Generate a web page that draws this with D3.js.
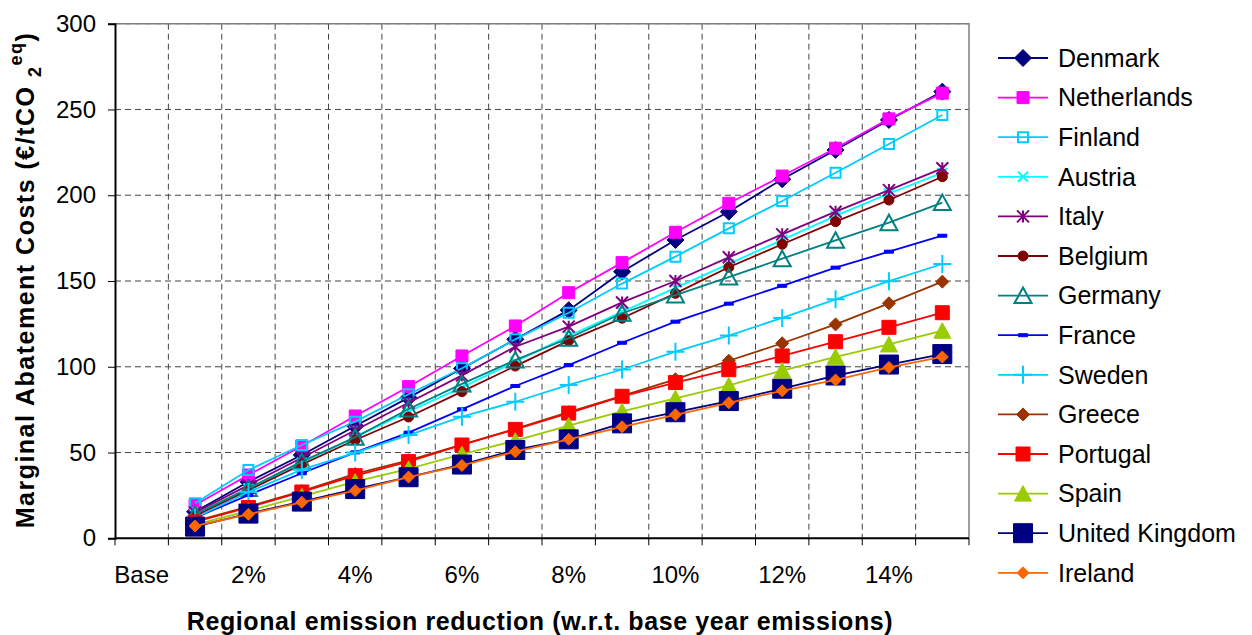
<!DOCTYPE html>
<html>
<head>
<meta charset="utf-8">
<script src="https://cdn.jsdelivr.net/npm/d3@7"></script>
<style>
  body { margin: 0; background: #fff; }
  text { font-family: "Liberation Sans", Arial, sans-serif; fill: #000; }
</style>
</head>
<body>
<svg id="chart" width="1252" height="635"></svg>
<script>
// categories on the x axis (Base + 1%..15%)
var categories = ["Base","1%","2%","3%","4%","5%","6%","7%","8%","9%","10%","11%","12%","13%","14%","15%"];
var tickLabels = ["Base","2%","4%","6%","8%","10%","12%","14%"];
var yTicks = [0, 50, 100, 150, 200, 250, 300];

// marginal abatement costs, one value per reduction step 1%..15%
var denmark     = [15.5, 33, 48.6, 65.5, 82, 99, 116, 133, 155.4, 173.9, 190.4, 209.3, 226.4, 243.9, 260.4];
var netherlands = [19.4, 36.9, 53.8, 71.3, 88.4, 106.3, 123.8, 143.2, 160.7, 178.4, 195.3, 211.2, 227.4, 244.5, 259.5];
var finland     = [20.4, 39.8, 54.4, 68, 84, 99.1, 116, 131.5, 148.5, 164.2, 180.7, 196.6, 213.1, 229.9, 246.8];
var austria     = [14, 29, 44, 59, 74, 88, 103, 118, 132, 146, 160, 174, 188, 201, 213];
var italy       = [15, 31, 47, 63, 79, 95, 111.7, 123.4, 137.5, 150, 163.8, 177.2, 190.4, 203, 215.7];
var belgium     = [13, 28, 43, 57.3, 70.7, 85.5, 100.4, 115.2, 128.3, 142.8, 158, 171.4, 184.6, 197.2, 210.8];
var germany     = [14, 29.1, 44.7, 58.9, 75.4, 90, 103.9, 116.6, 131.2, 141.8, 152.3, 163, 173.7, 184, 195.7];
var france      = [12, 25.2, 37.9, 50.1, 61.6, 75.2, 88.8, 101, 114, 126.3, 136.8, 147.2, 157.8, 167.1, 176.4];
var sweden      = [12, 27, 40, 50, 60.2, 70.9, 79.6, 89.4, 98.4, 108.8, 118.2, 128.5, 139.3, 149.9, 159.9];
var greece      = [10, 18.5, 27.5, 37.5, 45.5, 54.6, 63.8, 73.5, 83, 92.7, 103.5, 113.7, 124.7, 137, 149.6];
var portugal    = [9.5, 18, 27, 36.5, 44.7, 54.4, 63.5, 73, 82.8, 90.8, 98.3, 106.3, 114.6, 123, 131.5];
var spain       = [8, 16, 24.5, 33, 40.5, 49, 56.9, 65.7, 74, 81.6, 89.1, 97.8, 105.8, 113, 121];
var uk          = [6.8, 14.4, 21.4, 28.7, 35.6, 43, 51.5, 57.7, 67, 73.5, 80, 87.2, 94.9, 101.3, 107.4];
var ireland     = [7.2, 14, 21, 27.8, 35.7, 42.5, 50.5, 57.7, 65, 72, 79, 86, 92.3, 99.6, 105.7];

var names  = ["Denmark","Netherlands","Finland","Austria","Italy","Belgium","Germany","France",
              "Sweden","Greece","Portugal","Spain","United Kingdom","Ireland"];
var values = [denmark, netherlands, finland, austria, italy, belgium, germany, france,
              sweden, greece, portugal, spain, uk, ireland];

// look of each series (Excel style markers)
var styles = {
  "Denmark":        {color: "#000080", marker: "diamond",  size: 17, fill: true},
  "Netherlands":    {color: "#FF00FF", marker: "square",   size: 12, fill: true},
  "Finland":        {color: "#00CCFF", marker: "square",   size: 10, fill: false},
  "Austria":        {color: "#00FFFF", marker: "cross",    size: 10, fill: false},
  "Italy":          {color: "#800080", marker: "star",     size: 12, fill: false},
  "Belgium":        {color: "#800000", marker: "circle",   size: 10, fill: true},
  "Germany":        {color: "#008080", marker: "triangle", size: 17, fill: false},
  "France":         {color: "#0000FF", marker: "dash",     size: 9,  fill: true},
  "Sweden":         {color: "#00CCFF", marker: "plus",     size: 18, fill: false},
  "Greece":         {color: "#993300", marker: "diamond",  size: 13, fill: true},
  "Portugal":       {color: "#FF0000", marker: "square",   size: 14, fill: true},
  "Spain":          {color: "#99CC00", marker: "triangle", size: 17, fill: true},
  "United Kingdom": {color: "#000080", marker: "square",   size: 19, fill: true},
  "Ireland":        {color: "#FF6600", marker: "diamond",  size: 12, fill: true}
};

var plotLeft = 115, plotRight = 969, plotTop = 23.7, plotBottom = 538.3;

var svg = d3.select("#chart");

var x = d3.scaleBand().domain(categories).range([plotLeft, plotRight]).padding(0);
var y = d3.scaleLinear().domain([0, 300]).range([plotBottom, plotTop]);

// marker shapes centred on 0,0
function markerPath(type, s) {
  var h = s / 2;
  switch (type) {
    case "diamond":  return "M0," + (-h) + "L" + h + ",0L0," + h + "L" + (-h) + ",0Z";
    case "square":   return "M" + (-h) + "," + (-h) + "h" + s + "v" + s + "h" + (-s) + "Z";
    case "triangle": return "M0," + (-h + 0.5) + "L" + h + "," + (h - 1) + "L" + (-h) + "," + (h - 1) + "Z";
    case "cross":    return "M" + (-h) + "," + (-h) + "L" + h + "," + h + "M" + h + "," + (-h) + "L" + (-h) + "," + h;
    case "plus":     return "M" + (-h) + ",0H" + h + "M0," + (-h) + "V" + h;
    case "star":     return "M" + (-h) + "," + (-h) + "L" + h + "," + h + "M" + h + "," + (-h) + "L" + (-h) + "," + h +
                            "M0," + (-h) + "V" + h;
    case "dash":     return "M" + (-h) + ",-1.5h" + s + "v3h" + (-s) + "Z";
    case "circle":   return d3.symbol(d3.symbolCircle, Math.PI * h * h)();
  }
}

function drawMarker(g, st) {
  var p = g.append("path").attr("d", markerPath(st.marker, st.size));
  if (st.fill) {
    p.attr("fill", st.color).attr("stroke", st.color).attr("stroke-width", 1);
  } else {
    p.attr("fill", "none").attr("stroke", st.color).attr("stroke-width", 2);
  }
}

// grid
var grid = svg.append("g");
grid.selectAll("line.h").data(yTicks.filter(function(d){ return d > 0; }))
  .enter().append("line")
  .attr("x1", plotLeft).attr("x2", plotRight)
  .attr("y1", function(d){ return y(d); }).attr("y2", function(d){ return y(d); })
  .attr("stroke", "#444").attr("stroke-dasharray", "6,4").attr("stroke-width", 1);
grid.selectAll("line.v").data(categories.slice(1))
  .enter().append("line")
  .attr("x1", function(d){ return x(d); }).attr("x2", function(d){ return x(d); })
  .attr("y1", plotTop).attr("y2", plotBottom)
  .attr("stroke", "#444").attr("stroke-dasharray", "6,4").attr("stroke-width", 1);

// plot frame (top/right grey)
svg.append("path")
  .attr("d", "M" + plotLeft + "," + plotTop + "H" + plotRight + "V" + plotBottom)
  .attr("fill", "none").attr("stroke", "#808080").attr("stroke-width", 1.5);

// y axis
var yAxis = svg.append("g").attr("transform", "translate(" + plotLeft + ",0)")
  .call(d3.axisLeft(y).tickValues(yTicks).tickSize(7).tickPadding(12));
yAxis.select(".domain").attr("stroke", "#000").attr("stroke-width", 2);
yAxis.selectAll("text").style("font-size", "24px").attr("fill", "#000")
  .style("font-family", "'Liberation Sans', Arial, sans-serif");

// x axis: ticks at band boundaries, labels every second category
var xBoundaries = categories.map(function(d){ return x(d); }).concat([plotRight]);
var xAxisG = svg.append("g");
xAxisG.append("line").attr("x1", plotLeft).attr("x2", plotRight)
  .attr("y1", plotBottom).attr("y2", plotBottom)
  .attr("stroke", "#000").attr("stroke-width", 2);
xAxisG.selectAll("line.t").data(xBoundaries).enter().append("line")
  .attr("x1", function(d){ return d; }).attr("x2", function(d){ return d; })
  .attr("y1", plotBottom).attr("y2", plotBottom + 7).attr("stroke", "#000").attr("stroke-width", 1);
xAxisG.selectAll("text").data(tickLabels).enter().append("text")
  .attr("x", function(d){ return x(d) + x.bandwidth() / 2; })
  .attr("y", 575).attr("dy", "0.35em").attr("text-anchor", "middle")
  .style("font-size", "24px").text(function(d){ return d; });

// series
var line = d3.line()
  .x(function(d){ return x(d.cat) + x.bandwidth() / 2; })
  .y(function(d){ return y(d.v); });

names.forEach(function(name, i) {
  var st = styles[name];
  var pts = values[i].map(function(v, j){ return {cat: categories[j + 1], v: v}; });
  var g = svg.append("g");
  g.append("path").datum(pts).attr("d", line)
    .attr("fill", "none").attr("stroke", st.color).attr("stroke-width", 1.8);
  pts.forEach(function(p) {
    var m = g.append("g").attr("transform", "translate(" + (x(p.cat) + x.bandwidth() / 2) + "," + y(p.v) + ")");
    drawMarker(m, st);
  });
});

// legend
var legend = svg.append("g");
names.forEach(function(name, i) {
  var st = styles[name];
  var ly = 58 + i * 39.6;
  legend.append("line").attr("x1", 998).attr("x2", 1048).attr("y1", ly).attr("y2", ly)
    .attr("stroke", st.color).attr("stroke-width", 1.8);
  var m = legend.append("g").attr("transform", "translate(1023," + ly + ")");
  drawMarker(m, st);
  legend.append("text").attr("x", 1058).attr("y", ly).attr("dy", "0.35em")
    .style("font-size", "25px").text(name);
});

// axis titles
svg.append("text")
  .attr("x", 540).attr("y", 621).attr("dy", "0.35em").attr("text-anchor", "middle")
  .style("font-size", "25px").style("font-weight", "bold").style("letter-spacing", "0.6px")
  .text("Regional emission reduction (w.r.t. base year emissions)");

var yt = svg.append("text")
  .attr("transform", "translate(34,280) rotate(-90)")
  .attr("text-anchor", "middle")
  .style("font-size", "25px").style("font-weight", "bold").style("letter-spacing", "1.5px");
yt.append("tspan").text("Marginal Abatement Costs (€/tCO ");
yt.append("tspan").attr("dy", 7).style("font-size", "18px").text("2");
yt.append("tspan").attr("dy", -19).style("font-size", "18px").text("eq");
yt.append("tspan").attr("dy", 12).text(")");
</script>
</body>
</html>
